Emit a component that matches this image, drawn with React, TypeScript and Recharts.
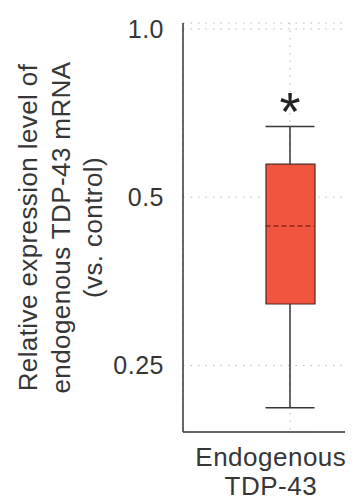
import { ComposedChart, Bar, Scatter, XAxis, YAxis, CartesianGrid } from "recharts";

// five-number summary (log2 y axis)
const categories = ["Endogenous TDP-43"];
const whiskerLow = [0.21];
const boxLow = [0.322];
const medians = [0.444];
const boxHigh = [0.573];
const whiskerHigh = [0.669];
const marks = ["*"];

const yTicks = [0.25, 0.5, 1.0];
const yLabelLines = ["Relative expression  level of", "endogenous TDP-43 mRNA", "(vs. control)"];

const FONT = '"Liberation Sans", Arial, Helvetica, sans-serif';
const INK = "#363636";
const BOX_W = 49;

const boxRows = categories.map((name, i) => ({ name, box: [boxLow[i], boxHigh[i]] }));
const medianPts = categories.map((name, i) => ({ name, v: medians[i] }));
const capPts = categories.flatMap((name, i) => [
  { name, v: whiskerHigh[i], mark: marks[i] },
  { name, v: whiskerLow[i], mark: "" },
]);

const Nothing = () => <g />;

const MedianShape = (p: any) => (
  <line
    x1={p.cx - BOX_W / 2}
    x2={p.cx + BOX_W / 2}
    y1={p.cy}
    y2={p.cy}
    stroke="#8f2418"
    strokeWidth={1.5}
    strokeDasharray="5 3"
  />
);

const CapShape = (p: any) => (
  <g>
    <line x1={p.cx - BOX_W / 2} x2={p.cx + BOX_W / 2} y1={p.cy} y2={p.cy} stroke={INK} strokeWidth={1.5} />
    {p.payload.mark ? (
      <text x={p.cx} y={p.cy + 3} textAnchor="middle" fontSize={54} fontFamily={FONT} fill="#222">
        {p.payload.mark}
      </text>
    ) : null}
  </g>
);

const YLabel = (props: any) => {
  const vb = props.viewBox;
  const cy = vb.y + vb.height / 2;
  const xs = [37, 70, 102];
  return (
    <g>
      {yLabelLines.map((line, i) => (
        <text
          key={i}
          transform={`translate(${vb.x + xs[i]},${cy}) rotate(-90)`}
          textAnchor="middle"
          fontSize={26}
          letterSpacing={0.4}
          fontFamily={FONT}
          fill={INK}
        >
          {line}
        </text>
      ))}
    </g>
  );
};

const CategoryTick = (props: any) => {
  const { x, y, payload } = props;
  const words = String(payload.value).split(" ");
  return (
    <g>
      {words.map((w, i) => (
        <text
          key={i}
          x={x - 15}
          y={y + 32 + i * 29}
          textAnchor="middle"
          fontSize={26}
          letterSpacing={0.5}
          fontFamily={FONT}
          fill={INK}
        >
          {w}
        </text>
      ))}
    </g>
  );
};

export default function App() {
  return (
    <div style={{ margin: "-8px 0 0 -8px", width: 353, height: 501, background: "#fff" }}>
      <ComposedChart width={353} height={501} data={boxRows} margin={{ top: 23, right: 0, bottom: 0, left: 0 }}>
        <CartesianGrid stroke="#b8b8b8" strokeDasharray="1.5 6" />
        <XAxis
          dataKey="name"
          type="category"
          allowDuplicatedCategory={false}
          padding={{ left: 44, right: 0 }}
          height={69}
          tickLine={false}
          tickSize={0}
          tick={<CategoryTick />}
          stroke={INK}
          strokeWidth={1.5}
        />
        <YAxis
          scale="log"
          domain={[0.19, 1.025]}
          allowDataOverflow
          ticks={yTicks}
          tickFormatter={(v: number) => (v === 1 ? "1.0" : String(v))}
          width={183}
          tickLine={false}
          tickSize={0}
          tickMargin={19}
          tick={{ fontSize: 25, fill: INK, fontFamily: FONT, letterSpacing: 0.5 }}
          stroke={INK}
          strokeWidth={1.5}
          label={{ content: <YLabel /> }}
        />
        <Bar
          dataKey="box"
          barSize={BOX_W}
          fill="#f2553f"
          stroke="#4e2620"
          strokeWidth={1.2}
          isAnimationActive={false}
        />
        {categories.map((name, i) => (
          <Scatter
            key={`up-${i}`}
            data={[{ name, v: boxHigh[i] }, { name, v: whiskerHigh[i] }]}
            dataKey="v"
            line={{ stroke: INK, strokeWidth: 1.5 }}
            shape={<Nothing />}
            isAnimationActive={false}
          />
        ))}
        {categories.map((name, i) => (
          <Scatter
            key={`lo-${i}`}
            data={[{ name, v: whiskerLow[i] }, { name, v: boxLow[i] }]}
            dataKey="v"
            line={{ stroke: INK, strokeWidth: 1.5 }}
            shape={<Nothing />}
            isAnimationActive={false}
          />
        ))}
        <Scatter data={medianPts} dataKey="v" shape={<MedianShape />} isAnimationActive={false} />
        <Scatter data={capPts} dataKey="v" shape={<CapShape />} isAnimationActive={false} />
      </ComposedChart>
    </div>
  );
}
